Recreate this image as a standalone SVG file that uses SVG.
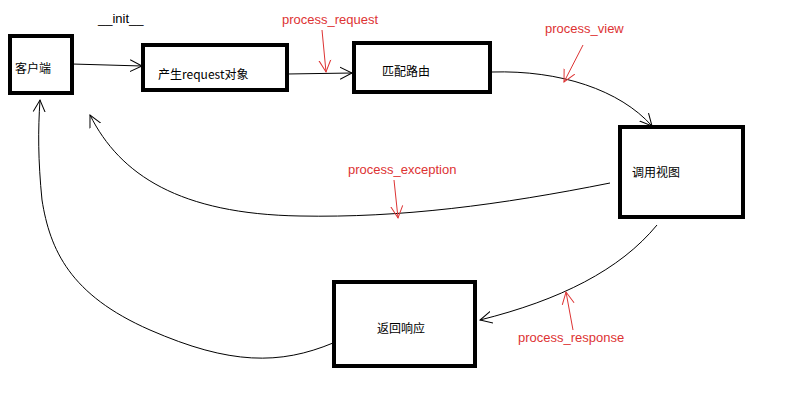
<svg xmlns="http://www.w3.org/2000/svg" width="800" height="400" viewBox="0 0 800 400">
<style>
.box{fill:#fff;stroke:#000;stroke-width:4}
.lbl{font-family:"Noto Sans CJK SC","Liberation Sans",sans-serif;font-size:12px;fill:#000}
.red{font-family:"Liberation Sans",sans-serif;font-size:13px;fill:#d33}
.c{fill:none;stroke:#000;stroke-width:1}
.r{fill:none;stroke:#d33;stroke-width:1}
</style>
<defs>
<marker id="a" markerWidth="14" markerHeight="14" refX="12" refY="7" orient="auto" markerUnits="userSpaceOnUse"><path d="M0,1 L12,7 L0,13" fill="none" stroke="#000"/></marker>
<marker id="ar" markerWidth="14" markerHeight="14" refX="12" refY="7" orient="auto" markerUnits="userSpaceOnUse"><path d="M0,1 L12,7 L0,13" fill="none" stroke="#d33"/></marker>
</defs>
<rect width="800" height="400" fill="#fff"/>
<g id="n1"><rect class="box" x="10" y="36" width="62" height="57"/><text class="lbl" x="15" y="73">客户端</text></g>
<g id="n2"><rect class="box" x="143" y="45" width="144" height="45"/><text class="lbl" x="158" y="79">产生request对象</text></g>
<g id="n3"><rect class="box" x="354" y="43" width="136" height="49"/><text class="lbl" x="382" y="76">匹配路由</text></g>
<g id="n4"><rect class="box" x="620" y="127" width="123" height="90"/><text class="lbl" x="632" y="177">调用视图</text></g>
<g id="n5"><rect class="box" x="334" y="282" width="141" height="84"/><text class="lbl" x="377" y="333">返回响应</text></g>
<g id="connectors">
<path class="c" d="M72,64 L142,66" marker-end="url(#a)"/>
<path class="c" d="M287,74 L352,73" marker-end="url(#a)"/>
<path class="c" d="M492,72 C560,70 620,90 652,126" marker-end="url(#a)"/>
<path class="c" d="M610,183 C500,205 400,218 300,216 C180,214 120,175 90,115" marker-end="url(#a)"/>
<path class="c" d="M657,225 C620,270 560,300 480,320" marker-end="url(#a)"/>
<path class="c" d="M333,343 C280,365 230,365 150,330 C70,295 50,250 42,200 C38,160 38,130 40,100" marker-end="url(#a)"/>
<path class="r" d="M322,30 L326,72" marker-end="url(#ar)"/>
<path class="r" d="M583,45 L564,82" marker-end="url(#ar)"/>
<path class="r" d="M394,180 L398,218" marker-end="url(#ar)"/>
<path class="r" d="M573,330 L566,292" marker-end="url(#ar)"/>
</g>
<text x="98" y="23" font-family="Liberation Sans,sans-serif" font-size="13">__init__</text>
<text class="red" x="282" y="24">process_request</text>
<text class="red" x="545" y="33">process_view</text>
<text class="red" x="348" y="174">process_exception</text>
<text class="red" x="518" y="342">process_response</text>
</svg>
